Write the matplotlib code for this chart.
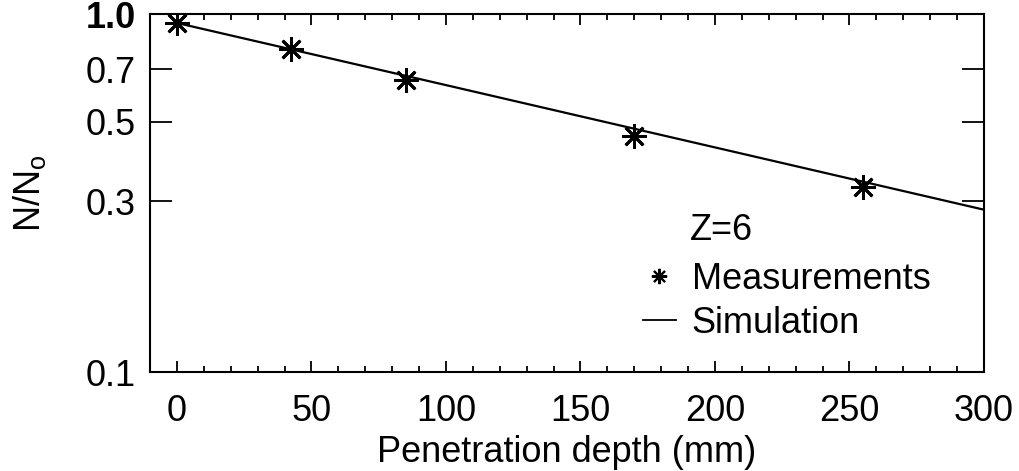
import matplotlib
matplotlib.use("Agg")
import matplotlib.pyplot as plt
from matplotlib.ticker import FixedLocator, MultipleLocator, NullLocator
from matplotlib.lines import Line2D

plt.rcParams['font.family'] = ['Liberation Sans', 'DejaVu Sans']
plt.rcParams['mathtext.fontset'] = 'custom'
plt.rcParams['mathtext.rm'] = 'Liberation Sans'
plt.rcParams['mathtext.it'] = 'Liberation Sans'

# Data
meas_depth = [0, 42.5, 85, 170, 255]
meas_ratio = [0.944, 0.80, 0.653, 0.457, 0.329]
sim_depth = [0, 50, 100, 150, 200, 250, 300]
sim_ratio = [0.944, 0.773, 0.633, 0.518, 0.424, 0.347, 0.284]
y_ticks = [0.1, 0.3, 0.5, 0.7, 1.0]
y_ticklabels = ['0.1', '0.3', '0.5', '0.7', '1.0']
x_ticks = [0, 50, 100, 150, 200, 250, 300]

FS = 26
fig = plt.figure(figsize=(10.2, 4.71), dpi=100)
ax = fig.add_axes([150/1020, 1-372/471, (984-150)/1020, (372-14)/471])

ax.plot(sim_depth, sim_ratio, color='black', lw=1.6, label='Simulation')
ax.plot(meas_depth, meas_ratio, linestyle='none', marker=(8, 2, 0), markersize=18,
        markeredgewidth=2.0, color='black', label='Measurements')

ax.set_yscale('log')
ax.set_xlim(-10, 300)
ax.set_ylim(0.1, 1.0)
ax.yaxis.set_major_locator(FixedLocator(y_ticks))
ax.yaxis.set_minor_locator(NullLocator())
ax.set_yticklabels(y_ticklabels)
ax.xaxis.set_major_locator(FixedLocator(x_ticks))
ax.xaxis.set_minor_locator(MultipleLocator(10))

for s in ax.spines.values():
    s.set_linewidth(1.5)

ax.tick_params(axis='x', which='major', direction='in', length=8, width=1.3,
               top=True, labelsize=FS, pad=16)
ax.tick_params(axis='x', which='minor', direction='in', length=4, width=1.3, top=True)
ax.tick_params(axis='y', which='major', direction='in', length=16, width=1.3,
               right=True, labelsize=FS, pad=10)
for lab in ax.get_yticklabels():
    if lab.get_text() == '1.0':
        lab.set_fontweight('bold')

ax.set_xlabel('Penetration depth (mm)', fontsize=FS)
ax.xaxis.set_label_coords(0.5, -0.175)
fig.text(30/1020, 1-193/471, r'N/N$_\mathrm{o}$', rotation=90, fontsize=FS,
         ha='center', va='center')

ax.text(690, 471 - 230, 'Z=6', transform=None, fontsize=FS, va='center', ha='left')
leg_mark = Line2D([], [], linestyle='none', marker=(8, 2, 0), markersize=11,
                  markeredgewidth=1.5, color='black')
leg_line = Line2D([], [], color='black', lw=1.3)
leg = ax.legend([leg_mark, leg_line], ['Measurements', 'Simulation'],
                loc='upper left', bbox_to_anchor=((643 - 150) / 834, 1 - (262 - 14) / 358),
                frameon=False, fontsize=FS, handlelength=0.9, handletextpad=0.45,
                labelspacing=0.25, borderaxespad=0, borderpad=0)

fig.savefig('out.png', dpi=100)
